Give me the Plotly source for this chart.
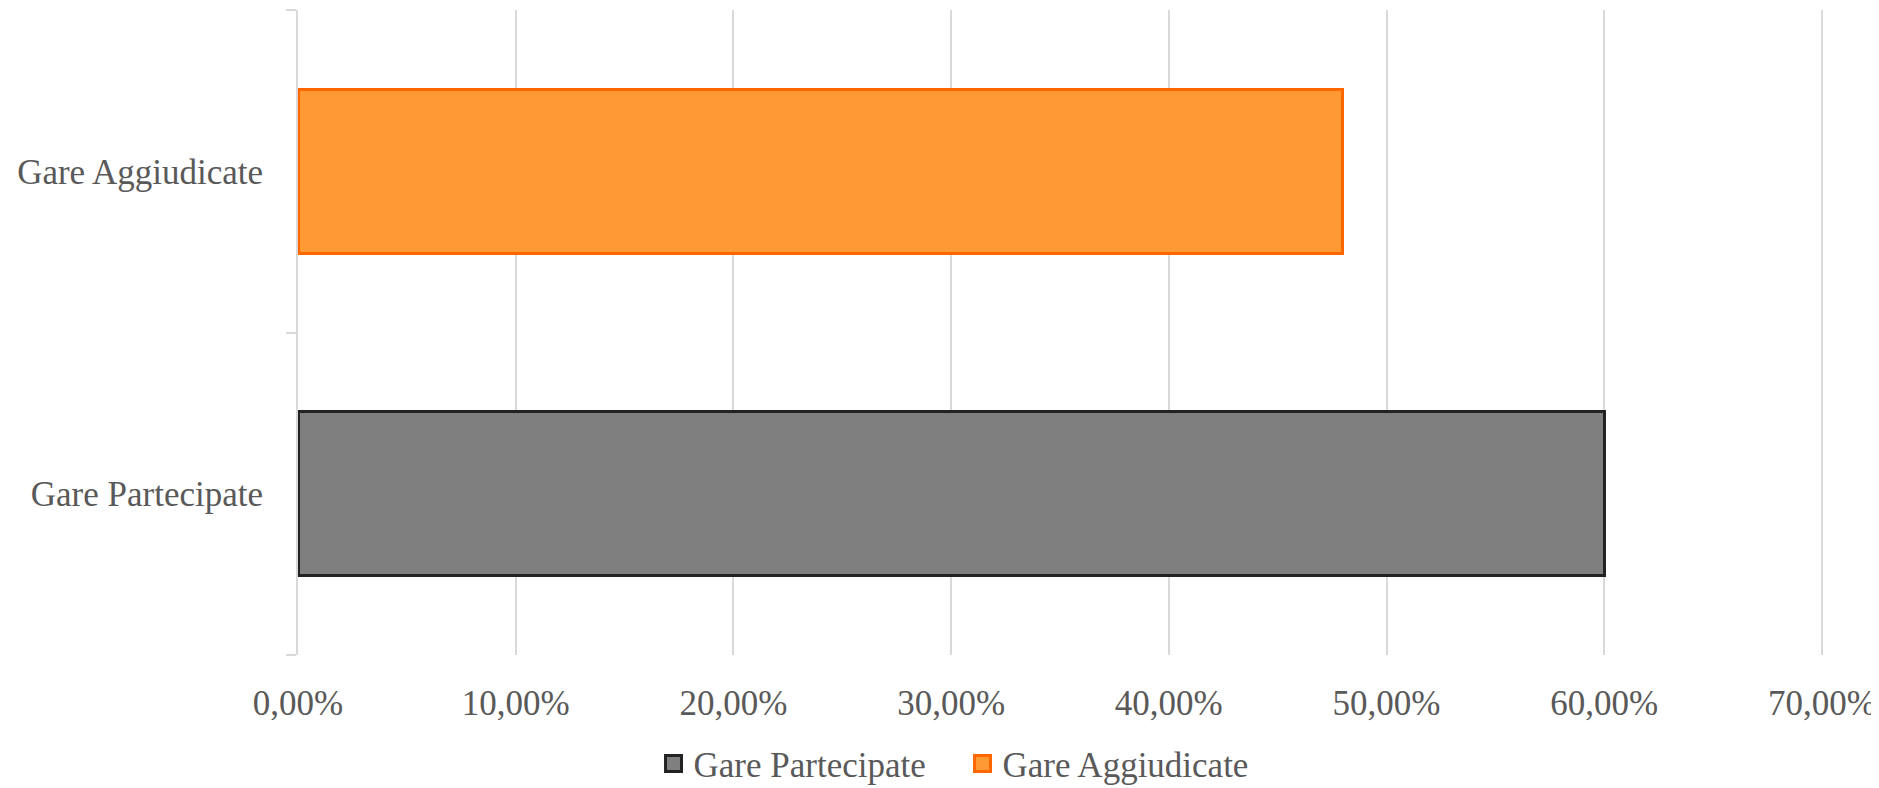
import plotly.graph_objects as go

categories = ["Gare Partecipate", "Gare Aggiudicate"]
series_names = ["Gare Partecipate", "Gare Aggiudicate"]
partecipate_values = [0.60]
aggiudicate_values = [0.48]
x_ticks = [0, 0.1, 0.2, 0.3, 0.4, 0.5, 0.6, 0.7]

FONT = "Liberation Serif"
TXT = "#595959"
SIZE = 35

styles = [
    dict(color="#7F7F7F", line=dict(color="#222222", width=3)),
    dict(color="#FF9933", line=dict(color="#FF6600", width=3)),
]
values = [partecipate_values, aggiudicate_values]

fig = go.Figure()
for i in range(2):
    fig.add_trace(go.Bar(
        y=[categories[i]], x=values[i], orientation="h", name=series_names[i],
        marker=styles[i], showlegend=False,
    ))
# legend entries with larger square symbols
for i in range(2):
    fig.add_trace(go.Scatter(
        x=[None], y=[None], mode="markers", name=series_names[i],
        marker=dict(symbol="square", size=20, color=styles[i]["color"],
                    line=dict(color=styles[i]["line"]["color"], width=3)),
        showlegend=True,
    ))

# the page body adds an 8px offset; compensate in the margins
fig.update_layout(
    width=1879, height=788,
    barmode="stack", bargap=0.49,
    separators=",.",
    paper_bgcolor="white", plot_bgcolor="white",
    margin=dict(l=290, r=64, t=2, b=141, autoexpand=False),
    font=dict(family=FONT, size=SIZE, color=TXT),
    showlegend=True,
    legend=dict(orientation="h", xref="container", x=0.508, xanchor="center",
                yref="container", y=0.041, yanchor="middle",
                itemwidth=30, entrywidth=264,
                font=dict(family=FONT, size=SIZE, color=TXT), traceorder="normal"),
    xaxis=dict(range=[0, 0.7005], tickvals=x_ticks, tickformat=".2%", automargin=False,
               showgrid=True, gridcolor="#D9D9D9", gridwidth=1.5,
               zeroline=False, showline=False, ticks="", ticklabelstandoff=24,
               tickfont=dict(family=FONT, size=SIZE, color=TXT)),
    yaxis=dict(categoryorder="array", categoryarray=categories, automargin=False,
               showline=True, linecolor="#D9D9D9", linewidth=2,
               ticks="outside", tickson="boundaries", ticklen=10, tickcolor="#D9D9D9",
               tickwidth=2, showgrid=False, ticklabelstandoff=26,
               tickfont=dict(family=FONT, size=SIZE, color=TXT)),
)

fig.write_html("out.html")
